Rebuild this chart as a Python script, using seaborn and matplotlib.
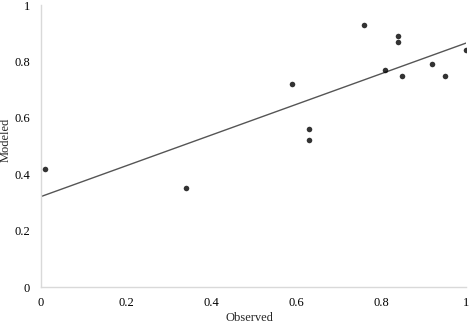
import matplotlib
matplotlib.use("Agg")
import matplotlib.pyplot as plt
import seaborn as sns
import pandas as pd

# Observed vs. modeled values
observed = [0.01, 0.34, 0.59, 0.63, 0.63, 0.76, 0.84, 0.84, 0.81, 0.85, 0.92, 0.95, 1.00]
modeled = [0.42, 0.35, 0.72, 0.56, 0.52, 0.93, 0.89, 0.87, 0.77, 0.75, 0.79, 0.75, 0.84]
ticks = [0, 0.2, 0.4, 0.6, 0.8, 1]
tick_labels = ["0", "0.2", "0.4", "0.6", "0.8", "1"]

df = pd.DataFrame({"Observed": observed, "Modeled": modeled})

sns.set_style("white")
plt.rcParams["font.family"] = ["Liberation Serif", "DejaVu Serif"]

fig = plt.figure(figsize=(4.74, 3.23), dpi=100)
ax = fig.add_axes([41 / 474, 36 / 323, 425 / 474, 282 / 323])
ax.set_xlim(0, 1)
ax.set_ylim(0, 1)

sns.regplot(
    data=df, x="Observed", y="Modeled", ax=ax, ci=None, truncate=False,
    scatter_kws=dict(s=16, color="black", linewidths=0, zorder=3),
    line_kws=dict(color="#555555", linewidth=1.0, zorder=2),
)

ax.set_xlim(0, 1)
ax.set_ylim(0, 1)
ax.set_xticks(ticks)
ax.set_xticklabels(tick_labels)
ax.set_yticks(ticks)
ax.set_yticklabels(tick_labels)
ax.tick_params(axis="both", length=0, labelsize=9, colors="black")
ax.tick_params(axis="x", pad=7)
ax.tick_params(axis="y", pad=8)

for side in ("top", "right"):
    ax.spines[side].set_visible(False)
for side in ("left", "bottom"):
    ax.spines[side].set_color("#d9d9d9")
    ax.spines[side].set_linewidth(1.0)

ax.set_xlabel("Observed", fontsize=9)
ax.set_ylabel("Modeled", fontsize=9)
ax.xaxis.set_label_coords(0.49, -0.087)
ax.yaxis.set_label_coords(-0.068, 0.52)

fig.savefig("out.png", dpi=100, facecolor="white")
